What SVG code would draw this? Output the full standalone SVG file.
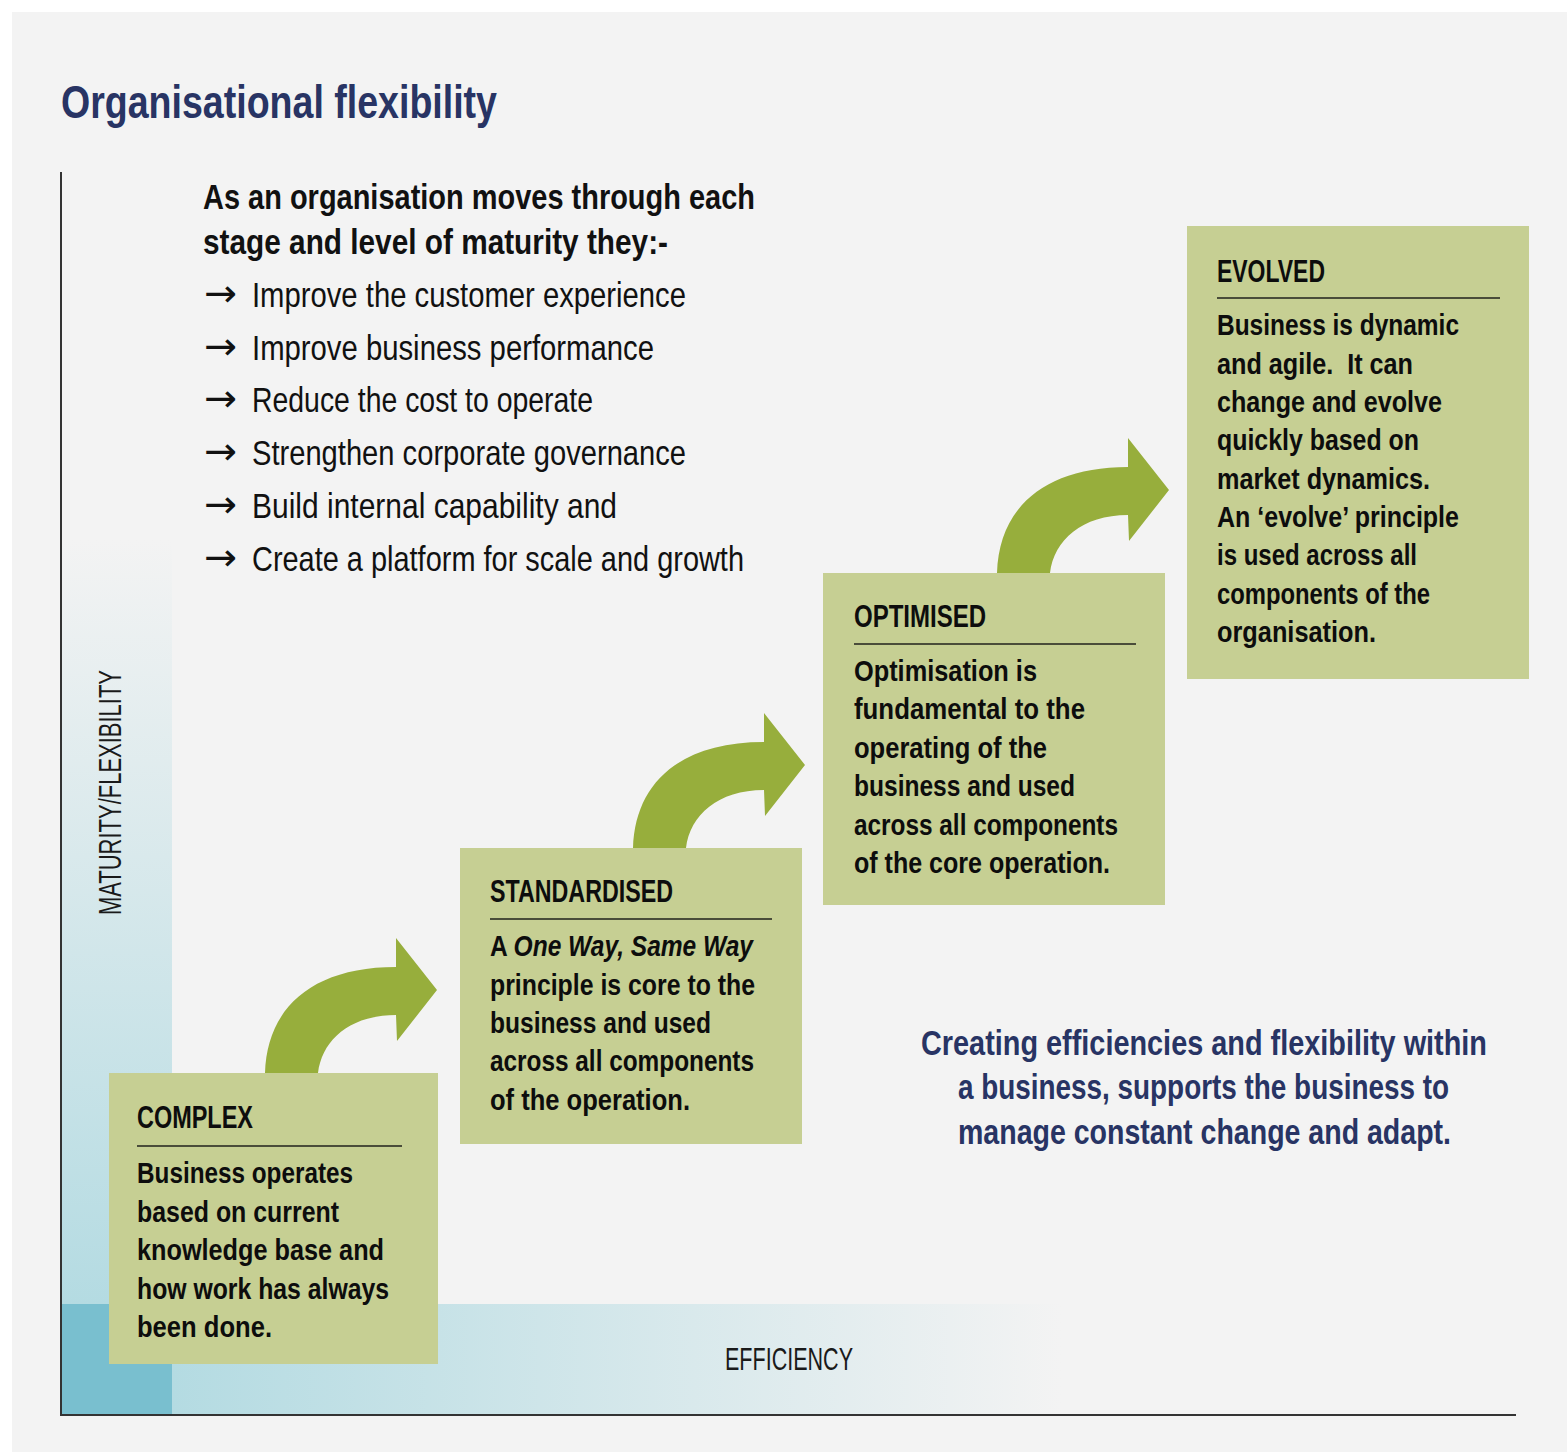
<svg xmlns="http://www.w3.org/2000/svg" width="1567" height="1452" viewBox="0 0 1567 1452">
<defs>
<style>
.t{font-family:"Liberation Sans Narrow","Liberation Sans",Arial,sans-serif;}
.title{font-size:47px;font-weight:bold;fill:#283464;}
.intro{font-size:35px;font-weight:bold;fill:#111;}
.bul{font-size:35px;fill:#111;}
.arr{font-family:"DejaVu Sans",sans-serif;font-size:38px;fill:#111;}
.hd{font-size:31px;font-weight:bold;fill:#0d0d0d;}
.bd{font-size:30px;font-weight:bold;fill:#0d0d0d;}
.ax{font-size:31px;fill:#1a1a1a;}
.cl{font-size:35px;font-weight:bold;fill:#283464;}
.box{fill:#c6cf93;}
.rule{stroke:#4a4d3a;stroke-width:2;}
.arrow{fill:#97ae3c;}
</style>
<linearGradient id="gv" x1="0" y1="0" x2="0" y2="1">
<stop offset="0" stop-color="#f3f3f3"/>
<stop offset="1" stop-color="#b4dbe2"/>
</linearGradient>
<linearGradient id="gh" x1="0" y1="0" x2="1" y2="0">
<stop offset="0" stop-color="#b4dbe2"/>
<stop offset="1" stop-color="#f3f3f3"/>
</linearGradient>
<path id="curl" d="M265,1073 C267,1008 312,967 396,967 L396,938 L437,990 L397,1041 L396,1015 C350,1015 322,1040 318,1073 Z"/>
</defs>
<rect x="0" y="0" width="1567" height="1452" fill="#ffffff"/>
<rect x="12" y="12" width="1555" height="1440" fill="#f3f3f3"/>

<g id="axes">
<rect x="62" y="540" width="110" height="764" fill="url(#gv)"/>
<rect x="172" y="1304" width="890" height="110" fill="url(#gh)"/>
<rect x="62" y="1304" width="110" height="110" fill="#79bfcf"/>
<line x1="61" y1="172" x2="61" y2="1416" stroke="#333" stroke-width="2"/>
<line x1="60" y1="1415" x2="1516" y2="1415" stroke="#333" stroke-width="2"/>
<text class="t ax" x="725" y="1370" textLength="128" lengthAdjust="spacingAndGlyphs">EFFICIENCY</text>
<text class="t ax" transform="translate(121,915) rotate(-90)" x="0" y="0" textLength="245" lengthAdjust="spacingAndGlyphs">MATURITY/FLEXIBILITY</text>
</g>

<g id="title">
<text class="t title" x="61" y="118" textLength="436" lengthAdjust="spacingAndGlyphs">Organisational flexibility</text>
</g>

<g id="intro">
<text class="t intro" x="203" y="209" textLength="552" lengthAdjust="spacingAndGlyphs">As an organisation moves through each</text>
<text class="t intro" x="203" y="254" textLength="465" lengthAdjust="spacingAndGlyphs">stage and level of maturity they:-</text>
<g class="arr">
<text x="204" y="306" textLength="33" lengthAdjust="spacingAndGlyphs">→</text>
<text x="204" y="359" textLength="33" lengthAdjust="spacingAndGlyphs">→</text>
<text x="204" y="411" textLength="33" lengthAdjust="spacingAndGlyphs">→</text>
<text x="204" y="464" textLength="33" lengthAdjust="spacingAndGlyphs">→</text>
<text x="204" y="517" textLength="33" lengthAdjust="spacingAndGlyphs">→</text>
<text x="204" y="570" textLength="33" lengthAdjust="spacingAndGlyphs">→</text>
</g>
<g class="t bul">
<text x="252" y="307" textLength="434" lengthAdjust="spacingAndGlyphs">Improve the customer experience</text>
<text x="252" y="360" textLength="402" lengthAdjust="spacingAndGlyphs">Improve business performance</text>
<text x="252" y="412" textLength="341" lengthAdjust="spacingAndGlyphs">Reduce the cost to operate</text>
<text x="252" y="465" textLength="434" lengthAdjust="spacingAndGlyphs">Strengthen corporate governance</text>
<text x="252" y="518" textLength="365" lengthAdjust="spacingAndGlyphs">Build internal capability and</text>
<text x="252" y="571" textLength="492" lengthAdjust="spacingAndGlyphs">Create a platform for scale and growth</text>
</g>
</g>

<g id="connectors">
<use href="#curl" class="arrow"/>
<use href="#curl" class="arrow" transform="translate(368,-225)"/>
<use href="#curl" class="arrow" transform="translate(732,-500)"/>
</g>

<g id="complex">
<rect class="box" x="109" y="1073" width="329" height="291"/>
<text class="t hd" x="137" y="1128" textLength="116" lengthAdjust="spacingAndGlyphs">COMPLEX</text>
<line class="rule" x1="137" y1="1146" x2="402" y2="1146"/>
<text class="t bd" x="137" y="1183" textLength="216" lengthAdjust="spacingAndGlyphs">Business operates</text>
<text class="t bd" x="137" y="1222" textLength="202" lengthAdjust="spacingAndGlyphs">based on current</text>
<text class="t bd" x="137" y="1260" textLength="247" lengthAdjust="spacingAndGlyphs">knowledge base and</text>
<text class="t bd" x="137" y="1299" textLength="252" lengthAdjust="spacingAndGlyphs">how work has always</text>
<text class="t bd" x="137" y="1337" textLength="135" lengthAdjust="spacingAndGlyphs">been done.</text>
</g>

<g id="standardised">
<rect class="box" x="460" y="848" width="342" height="296"/>
<text class="t hd" x="490" y="902" textLength="183" lengthAdjust="spacingAndGlyphs">STANDARDISED</text>
<line class="rule" x1="490" y1="919" x2="772" y2="919"/>
<text class="t bd" x="490" y="956" textLength="263" lengthAdjust="spacingAndGlyphs">A <tspan font-style="italic">One Way, Same Way</tspan></text>
<text class="t bd" x="490" y="995" textLength="265" lengthAdjust="spacingAndGlyphs">principle is core to the</text>
<text class="t bd" x="490" y="1033" textLength="221" lengthAdjust="spacingAndGlyphs">business and used</text>
<text class="t bd" x="490" y="1071" textLength="264" lengthAdjust="spacingAndGlyphs">across all components</text>
<text class="t bd" x="490" y="1110" textLength="200" lengthAdjust="spacingAndGlyphs">of the operation.</text>
</g>

<g id="optimised">
<rect class="box" x="823" y="573" width="342" height="332"/>
<text class="t hd" x="854" y="627" textLength="132" lengthAdjust="spacingAndGlyphs">OPTIMISED</text>
<line class="rule" x1="854" y1="644" x2="1136" y2="644"/>
<text class="t bd" x="854" y="681" textLength="183" lengthAdjust="spacingAndGlyphs">Optimisation is</text>
<text class="t bd" x="854" y="719" textLength="231" lengthAdjust="spacingAndGlyphs">fundamental to the</text>
<text class="t bd" x="854" y="758" textLength="193" lengthAdjust="spacingAndGlyphs">operating of the</text>
<text class="t bd" x="854" y="796" textLength="221" lengthAdjust="spacingAndGlyphs">business and used</text>
<text class="t bd" x="854" y="835" textLength="264" lengthAdjust="spacingAndGlyphs">across all components</text>
<text class="t bd" x="854" y="873" textLength="256" lengthAdjust="spacingAndGlyphs">of the core operation.</text>
</g>

<g id="evolved">
<rect class="box" x="1187" y="226" width="342" height="453"/>
<text class="t hd" x="1217" y="282" textLength="108" lengthAdjust="spacingAndGlyphs">EVOLVED</text>
<line class="rule" x1="1217" y1="298" x2="1500" y2="298"/>
<text class="t bd" x="1217" y="335" textLength="242" lengthAdjust="spacingAndGlyphs">Business is dynamic</text>
<text class="t bd" x="1217" y="374" textLength="196" lengthAdjust="spacingAndGlyphs" xml:space="preserve">and agile.  It can</text>
<text class="t bd" x="1217" y="412" textLength="225" lengthAdjust="spacingAndGlyphs">change and evolve</text>
<text class="t bd" x="1217" y="450" textLength="202" lengthAdjust="spacingAndGlyphs">quickly based on</text>
<text class="t bd" x="1217" y="489" textLength="213" lengthAdjust="spacingAndGlyphs">market dynamics.</text>
<text class="t bd" x="1217" y="527" textLength="242" lengthAdjust="spacingAndGlyphs">An ‘evolve’ principle</text>
<text class="t bd" x="1217" y="565" textLength="200" lengthAdjust="spacingAndGlyphs">is used across all</text>
<text class="t bd" x="1217" y="604" textLength="213" lengthAdjust="spacingAndGlyphs">components of the</text>
<text class="t bd" x="1217" y="642" textLength="159" lengthAdjust="spacingAndGlyphs">organisation.</text>
</g>

<g id="summary">
<text class="t cl" x="921" y="1055" textLength="566" lengthAdjust="spacingAndGlyphs">Creating efficiencies and flexibility within</text>
<text class="t cl" x="958" y="1099" textLength="491" lengthAdjust="spacingAndGlyphs">a business, supports the business to</text>
<text class="t cl" x="958" y="1144" textLength="493" lengthAdjust="spacingAndGlyphs">manage constant change and adapt.</text>
</g>
</svg>
